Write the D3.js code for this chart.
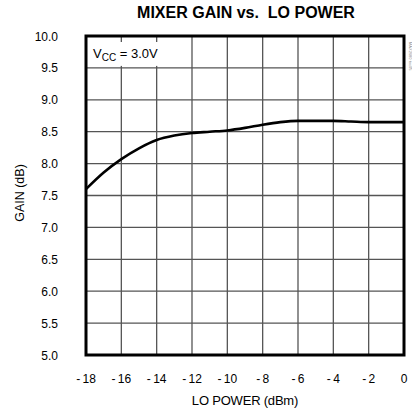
<!DOCTYPE html>
<html>
<head>
<meta charset="utf-8">
<script src="https://cdn.jsdelivr.net/npm/d3@7"></script>
<style>
  body { margin: 0; background: #fff; }
  text { font-family: "Liberation Sans", Arial, sans-serif; }
</style>
</head>
<body>
<div id="chart"></div>
<script>
// LO power (dBm) and mixer gain (dB)
const loPower = [-18, -17, -16, -15, -14, -13, -12, -11, -10, -9, -8, -7, -6, -5, -4, -3, -2, -1, 0];
const gain = [7.6, 7.86, 8.07, 8.24, 8.37, 8.44, 8.48, 8.5, 8.52, 8.56, 8.61, 8.65, 8.67, 8.67, 8.67, 8.66, 8.65, 8.65, 8.65];
const xTicks = [-18, -16, -14, -12, -10, -8, -6, -4, -2, 0];
const yTicks = [5.0, 5.5, 6.0, 6.5, 7.0, 7.5, 8.0, 8.5, 9.0, 9.5, 10.0];

const width = 412, height = 416;
const margin = { top: 36, right: 8, bottom: 61, left: 86 };

const svg = d3.select('#chart').append('svg')
    .attr('width', width)
    .attr('height', height);

const x = d3.scaleLinear().domain([-18, 0]).range([margin.left, width - margin.right]);
const y = d3.scaleLinear().domain([5, 10]).range([height - margin.bottom, margin.top]);

// title
svg.append('text')
    .attr('x', 246).attr('y', 18)
    .attr('text-anchor', 'middle')
    .attr('font-size', 16).attr('font-weight', 'bold')
    .attr('xml:space', 'preserve')
    .text('MIXER GAIN vs.  LO POWER');

// grid
svg.append('g').selectAll('line')
    .data(xTicks.slice(1, -1))
    .enter().append('line')
    .attr('x1', d => x(d)).attr('x2', d => x(d))
    .attr('y1', y(10)).attr('y2', y(5))
    .attr('stroke', '#555').attr('stroke-width', 1.3);

svg.append('g').selectAll('line')
    .data(yTicks.slice(1, -1))
    .enter().append('line')
    .attr('x1', x(-18)).attr('x2', x(0))
    .attr('y1', d => y(d)).attr('y2', d => y(d))
    .attr('stroke', '#555').attr('stroke-width', 1.3);

// white box behind the Vcc note
svg.append('rect')
    .attr('x', x(-18) + 2).attr('y', y(10) + 6)
    .attr('width', x(-12) - x(-18) - 4).attr('height', y(9.5) - y(10) - 8)
    .attr('fill', '#fff');

const note = svg.append('text')
    .attr('x', x(-18) + 7).attr('y', y(9.5) - 10)
    .attr('font-size', 13);
note.append('tspan').text('V');
note.append('tspan').attr('font-size', 10).attr('dy', 3).text('CC');
note.append('tspan').attr('dy', -3).text(' = 3.0V');

// curve
const line = d3.line()
    .x((d, i) => x(loPower[i]))
    .y(d => y(d))
    .curve(d3.curveMonotoneX);

svg.append('path')
    .datum(gain)
    .attr('d', line)
    .attr('fill', 'none')
    .attr('stroke', '#000')
    .attr('stroke-width', 2.6);

// frame
svg.append('rect')
    .attr('x', x(-18)).attr('y', y(10))
    .attr('width', x(0) - x(-18)).attr('height', y(5) - y(10))
    .attr('fill', 'none').attr('stroke', '#000').attr('stroke-width', 3);

// tick labels
svg.append('g').selectAll('text')
    .data(yTicks)
    .enter().append('text')
    .attr('x', 58).attr('y', d => y(d) + 4.5)
    .attr('text-anchor', 'end')
    .attr('font-size', 12)
    .text(d => d.toFixed(1));

svg.append('g').selectAll('text')
    .data(xTicks)
    .enter().append('text')
    .attr('x', d => x(d)).attr('y', 383)
    .attr('text-anchor', 'middle')
    .attr('font-size', 12)
    .text(d => d < 0 ? '-\u2009' + Math.abs(d) : String(d));

// axis titles
svg.append('text')
    .attr('x', 245).attr('y', 405)
    .attr('text-anchor', 'middle')
    .attr('font-size', 13)
    .attr('letter-spacing', -0.2)
    .text('LO POWER (dBm)');

svg.append('text')
    .attr('transform', 'translate(24,' + 193 + ') rotate(-90)')
    .attr('text-anchor', 'middle')
    .attr('font-size', 12.5)
    .text('GAIN (dB)');

// small figure id on the right edge
svg.append('text')
    .attr('transform', 'translate(409,42) rotate(90)')
    .attr('font-size', 4)
    .attr('fill', '#888')
    .text('MAX2680 toc05');
</script>
</body>
</html>
